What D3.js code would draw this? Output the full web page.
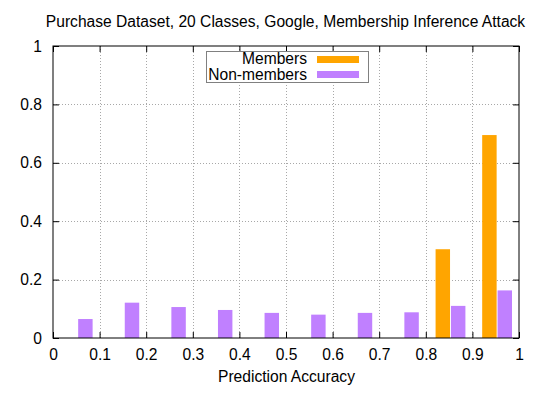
<!DOCTYPE html>
<html>
<head>
<meta charset="utf-8">
<script src="https://cdn.jsdelivr.net/npm/d3@7"></script>
<style>
body { margin:0; background:#fff; }
svg { display:block; font-family:"Liberation Sans", Arial, sans-serif; }
</style>
</head>
<body>
<svg></svg>
<script>
//bin centers along prediction accuracy
var bins = [0.05,0.15,0.25,0.35,0.45,0.55,0.65,0.75,0.85,0.95];
//fraction of members per bin
var members = [0,0,0,0,0,0,0,0,0.304,0.695];
//fraction of non-members per bin
var nonMembers = [0.065,0.121,0.106,0.096,0.086,0.080,0.086,0.088,0.110,0.163];
var xTicks = [0,0.1,0.2,0.3,0.4,0.5,0.6,0.7,0.8,0.9,1];
var yTicks = [0,0.2,0.4,0.6,0.8,1];
var seriesNames = ["Members","Non-members"];
var colors = ["#ffa500","#c080ff"];

var fontSize = 15.6;
var screen = {width:540,height:403};
var margins = {left:53,right:21,top:46,bottom:65};
var graph = {
    width:screen.width-margins.left-margins.right,
    height:screen.height-margins.top-margins.bottom
};

var svg = d3.select("svg")
    .attr("width",screen.width)
    .attr("height",screen.height);

var xScale = d3.scaleLinear().domain([0,1]).range([0,graph.width]);
var yScale = d3.scaleLinear().domain([0,1]).range([graph.height,0]);

var target = svg.append("g")
    .attr("transform","translate("+margins.left+","+margins.top+")");

//dotted grid
target.selectAll(".vgrid")
    .data(xTicks.slice(1,-1))
    .enter().append("line")
    .attr("x1",function(d){return Math.round(xScale(d))+0.5;})
    .attr("x2",function(d){return Math.round(xScale(d))+0.5;})
    .attr("y1",0).attr("y2",graph.height)
    .attr("stroke","#a8a8a8").attr("stroke-dasharray","1,2");
target.selectAll(".hgrid")
    .data(yTicks.slice(1,-1))
    .enter().append("line")
    .attr("y1",function(d){return Math.round(yScale(d))+0.5;})
    .attr("y2",function(d){return Math.round(yScale(d))+0.5;})
    .attr("x1",0).attr("x2",graph.width)
    .attr("stroke","#a8a8a8").attr("stroke-dasharray","1,2");

//bars: members left of the divider, non-members right of it
var barW = 0.031;
var drawBars = function(values,offset,color)
{
    target.append("g").selectAll("rect")
        .data(bins.map(function(b,i){return {x:b,v:values[i]};})
            .filter(function(d){return d.v>0;}))
        .enter().append("rect")
        .attr("x",function(d){return xScale(d.x+offset);})
        .attr("width",xScale(barW)-xScale(0))
        .attr("y",function(d){return yScale(d.v);})
        .attr("height",function(d){return graph.height-yScale(d.v);})
        .attr("fill",color);
}
drawBars(members,0.002-barW,colors[0]);
drawBars(nonMembers,0.004,colors[1]);

//border
target.append("rect")
    .attr("x",0).attr("y",0)
    .attr("width",graph.width).attr("height",graph.height)
    .attr("fill","none").attr("stroke","#000").attr("stroke-width",1);

//inward ticks on all sides
var xAxis = d3.axisBottom(xScale).tickValues(xTicks).tickSize(-6).tickPadding(11)
    .tickFormat(d3.format("~g"));
var yAxis = d3.axisLeft(yScale).tickValues(yTicks).tickSize(-6).tickPadding(11)
    .tickFormat(d3.format("~g"));
target.append("g").attr("transform","translate(0,"+graph.height+")").call(xAxis);
target.append("g").call(yAxis);
target.append("g").call(d3.axisTop(xScale).tickValues(xTicks).tickSize(-6).tickFormat(""));
target.append("g").attr("transform","translate("+graph.width+",0)")
    .call(d3.axisRight(yScale).tickValues(yTicks).tickSize(-6).tickFormat(""));
target.selectAll(".domain").remove();
target.selectAll(".tick text").attr("font-size",fontSize).attr("fill","#000")
    .attr("font-family","Liberation Sans, Arial, sans-serif");
target.selectAll(".tick line").attr("stroke","#000");

//labels
svg.append("text")
    .text("Purchase Dataset, 20 Classes, Google, Membership Inference Attack")
    .attr("x",285.5).attr("y",27).attr("text-anchor","middle").attr("font-size",fontSize);
svg.append("text")
    .text("Prediction Accuracy")
    .attr("x",margins.left+graph.width/2+0.5).attr("y",382).attr("text-anchor","middle").attr("font-size",fontSize);

//legend
var legend = svg.append("g");
legend.append("rect")
    .attr("x",206.5).attr("y",51.5).attr("width",162).attr("height",31)
    .attr("fill","#fff").attr("stroke","#808080");
seriesNames.forEach(function(name,i){
    legend.append("text").text(name)
        .attr("x",307).attr("y",64+i*15.5)
        .attr("text-anchor","end").attr("font-size",fontSize);
    legend.append("rect")
        .attr("x",317).attr("y",56+i*15).attr("width",42).attr("height",7)
        .attr("fill",colors[i]);
});
</script>
</body>
</html>
